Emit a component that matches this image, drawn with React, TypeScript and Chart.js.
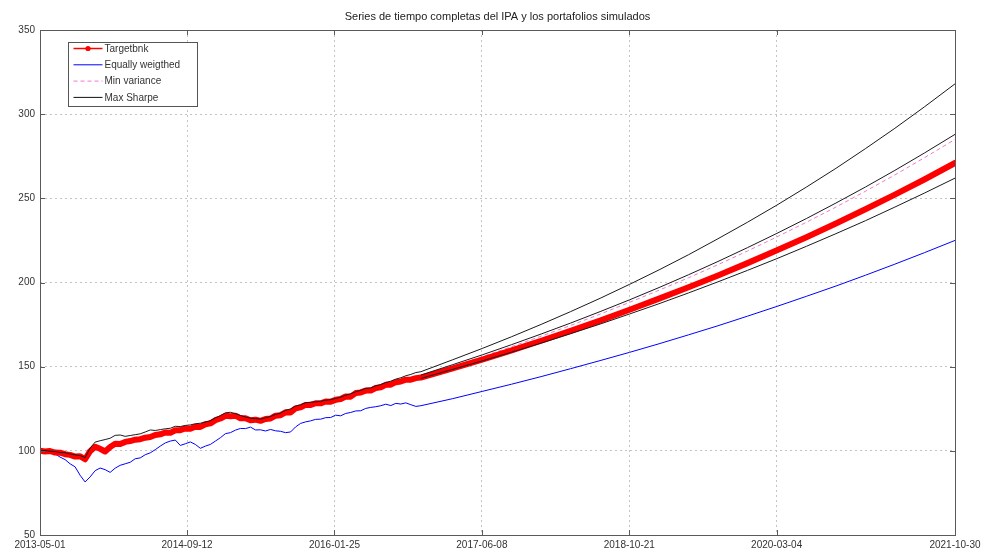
import { useEffect, useRef } from 'react';
import { Chart, registerables } from 'chart.js';

Chart.register(...registerables);

const titleText = 'Series de tiempo completas del IPA y los portafolios simulados';
const legendLabels = ['Targetbnk', 'Equally weigthed', 'Min variance', 'Max Sharpe'];

// x axis: days since 2013-05-01
const xMax = 3104;
const xTickDays = [0, 499, 999, 1499, 1999, 2499, 3104];
const xTickLabels = ['2013-05-01', '2014-09-12', '2016-01-25', '2017-06-08', '2018-10-21', '2020-03-04', '2021-10-30'];
const yTicks = [50, 100, 150, 200, 250, 300, 350];

const histDays = [
  0, 17, 34, 51, 68, 85, 102, 119, 136, 153,
  170, 187, 204, 221, 238, 255, 272, 289, 306, 323,
  340, 357, 374, 391, 408, 425, 442, 459, 476, 493,
  510, 527, 544, 561, 578, 595, 612, 629, 646, 663,
  680, 697, 714, 731, 748, 765, 782, 799, 816, 833,
  850, 867, 884, 901, 918, 935, 952, 969, 986, 1003,
  1020, 1037, 1054, 1071, 1088, 1105, 1122, 1139, 1156, 1173,
  1190, 1207, 1224, 1241, 1258, 1275, 1292,
];
const projDays = [1400, 1500, 1600, 1700, 1800, 1900, 2000, 2100, 2200, 2300, 2400, 2500, 2600, 2700, 2800, 2900, 3000, 3104];
const bandDays = [1292, 1400, 1500, 1600, 1700, 1800, 1900, 2000, 2100, 2200, 2300, 2400, 2500, 2600, 2700, 2800, 2900, 3000, 3104];

const targetHist = [
  100.0, 99.6, 99.9, 99.0, 98.9, 98.0, 97.6, 96.6, 96.8, 95.0,
  99.8, 102.4, 101.2, 99.6, 102.3, 104.2, 104.0, 105.3, 105.8, 106.6,
  106.9, 107.8, 108.2, 109.4, 109.8, 110.9, 110.7, 112.2, 112.3, 113.3,
  113.1, 114.3, 114.2, 115.8, 116.3, 118.2, 119.2, 120.8, 120.6, 120.9,
  119.3, 119.4, 118.2, 118.5, 117.8, 118.9, 119.2, 120.9, 121.2, 122.9,
  122.8, 125.2, 125.8, 127.3, 127.2, 128.3, 128.2, 129.3, 129.2, 130.3,
  130.8, 132.3, 132.2, 134.3, 134.7, 135.8, 135.8, 137.3, 137.8, 139.2,
  139.3, 140.8, 141.2, 142.3, 142.3, 143.2, 143.5,
];
const targetProj = [149.0, 154.2, 159.7, 165.4, 171.3, 177.4, 183.8, 190.4, 197.2, 204.2, 211.5, 219.1, 226.9, 235.1, 243.5, 252.2, 261.2, 271.0];

const equalHist = [
  100.0, 99.6, 98.8, 98.2, 96.3, 94.8, 92.3, 90.5, 85.5, 81.5,
  84.5, 88.2, 89.8, 88.8, 87.2, 89.7, 91.4, 92.3, 93.2, 95.3,
  95.8, 97.7, 98.8, 100.7, 102.8, 104.7, 105.8, 106.4, 103.2, 104.2,
  105.3, 103.8, 101.5, 102.8, 103.8, 105.8, 107.8, 110.2, 110.8, 112.3,
  113.3, 113.2, 114.1, 112.4, 112.5, 111.8, 112.7, 111.9, 111.6, 110.8,
  111.2, 114.2, 116.3, 117.2, 117.8, 118.7, 118.8, 119.7, 119.8, 121.2,
  120.8, 122.2, 122.8, 123.7, 123.8, 125.2, 125.8, 126.2, 126.8, 127.7,
  126.9, 128.2, 127.8, 128.5, 127.4, 126.4, 126.8,
];
const equalProj = [131.0, 135.3, 139.6, 144.1, 148.8, 153.6, 158.5, 163.6, 168.9, 174.3, 180.0, 185.8, 191.8, 197.9, 204.3, 210.9, 217.7, 225.0];

const minVarHist = [
  99.9, 99.5, 99.7, 98.9, 98.7, 97.9, 97.4, 96.5, 96.6, 94.9,
  99.5, 102.0, 101.0, 99.4, 102.0, 103.9, 103.8, 105.0, 105.5, 106.3,
  106.6, 107.5, 107.9, 109.0, 109.5, 110.6, 110.4, 111.9, 112.0, 113.0,
  112.8, 114.0, 113.9, 115.5, 116.0, 117.9, 118.9, 120.5, 120.3, 120.6,
  119.0, 119.1, 117.9, 118.2, 117.5, 118.6, 118.9, 120.6, 120.9, 122.6,
  122.5, 124.9, 125.5, 127.0, 126.9, 128.0, 127.9, 129.0, 128.9, 130.0,
  130.5, 132.0, 131.9, 134.0, 134.4, 135.5, 135.5, 137.0, 137.5, 138.9,
  139.0, 140.5, 140.9, 142.0, 142.0, 142.9, 144.0,
];
const minVarProj = [150.1, 155.9, 161.9, 168.1, 174.5, 181.2, 188.2, 195.4, 202.8, 210.6, 218.7, 227.1, 235.8, 244.8, 254.2, 263.9, 274.1, 285.0];

const maxSharpeHist = [
  100.0, 100.2, 99.8, 99.6, 99.0, 98.9, 98.1, 97.6, 97.2, 96.0,
  101.6, 105.2, 106.0, 106.7, 107.5, 109.2, 109.4, 108.6, 109.1, 109.6,
  110.1, 111.2, 112.4, 112.1, 112.6, 113.1, 113.4, 114.6, 114.4, 115.1,
  115.4, 116.1, 116.4, 117.1, 117.9, 119.6, 120.9, 122.6, 122.9, 122.1,
  121.0, 120.1, 119.4, 119.1, 118.9, 119.6, 120.4, 121.6, 122.4, 124.1,
  124.9, 126.6, 127.4, 128.6, 128.9, 129.1, 129.4, 130.1, 130.4, 131.1,
  131.9, 133.1, 133.9, 135.1, 135.9, 137.1, 137.4, 138.6, 139.4, 140.6,
  141.4, 142.6, 143.4, 144.6, 145.4, 146.5, 147.0,
];
const maxSharpeProj = [154.1, 160.8, 167.8, 175.1, 182.7, 190.6, 198.9, 207.5, 216.5, 226.0, 235.8, 246.0, 256.7, 267.8, 279.5, 291.6, 304.3, 318.0];

const upperBand = [145.0, 151.2, 157.0, 163.1, 169.4, 175.9, 182.7, 189.7, 197.0, 204.6, 212.5, 220.7, 229.2, 238.0, 247.2, 256.7, 266.6, 276.9, 288.0];
const lowerBand = [143.0, 148.4, 153.4, 158.6, 164.0, 169.6, 175.3, 181.3, 187.4, 193.8, 200.4, 207.2, 214.2, 221.5, 229.0, 236.7, 244.8, 253.1, 262.0];

const FONT = '"Liberation Sans", Arial, sans-serif';

function joinSeries(hist: number[], proj: number[]) {
  return [
    ...histDays.map((d, i) => ({ x: d, y: hist[i] })),
    ...projDays.map((d, i) => ({ x: d, y: proj[i] })),
  ];
}
function band(vals: number[]) {
  return bandDays.map((d, i) => ({ x: d, y: vals[i] }));
}

const overlayPlugin = {
  id: 'overlay',
  afterDraw(chart: any) {
    const { ctx, chartArea: a, scales } = chart;
    ctx.save();
    // frame
    ctx.strokeStyle = '#5a5a5a';
    ctx.lineWidth = 1;
    ctx.setLineDash([]);
    ctx.strokeRect(Math.round(a.left) + 0.5, Math.round(a.top) + 0.5, Math.round(a.right - a.left), Math.round(a.bottom - a.top));
    // inward ticks
    ctx.beginPath();
    for (const v of yTicks) {
      const y = Math.round(scales.y.getPixelForValue(v)) + 0.5;
      ctx.moveTo(a.left, y); ctx.lineTo(a.left + 5, y);
      ctx.moveTo(a.right, y); ctx.lineTo(a.right - 5, y);
    }
    for (const v of xTickDays) {
      const x = Math.round(scales.x.getPixelForValue(v)) + 0.5;
      ctx.moveTo(x, a.bottom); ctx.lineTo(x, a.bottom - 5);
      ctx.moveTo(x, a.top); ctx.lineTo(x, a.top + 5);
    }
    ctx.stroke();

    // title
    ctx.fillStyle = '#222';
    ctx.font = `11px ${FONT}`;
    ctx.textAlign = 'center';
    ctx.textBaseline = 'middle';
    ctx.fillText(titleText, (a.left + a.right) / 2, 17);

    // legend
    const bx = Math.round(a.left) + 28.5;
    const by = Math.round(a.top) + 12.5;
    const bw = 129;
    const bh = 64;
    ctx.fillStyle = '#fff';
    ctx.fillRect(bx, by, bw, bh);
    ctx.strokeStyle = '#555';
    ctx.lineWidth = 1;
    ctx.strokeRect(bx, by, bw, bh);
    const styles = [
      { color: '#ff0000', width: 1.5, dash: [] as number[], marker: true },
      { color: '#0000ff', width: 1, dash: [] as number[], marker: false },
      { color: '#f07ac8', width: 1, dash: [4, 3], marker: false },
      { color: '#111111', width: 1, dash: [] as number[], marker: false },
    ];
    ctx.font = `10px ${FONT}`;
    ctx.textAlign = 'left';
    ctx.textBaseline = 'middle';
    for (let i = 0; i < legendLabels.length; i++) {
      const y = by + 6 + i * 16.3;
      const s = styles[i];
      ctx.beginPath();
      ctx.setLineDash(s.dash);
      ctx.strokeStyle = s.color;
      ctx.lineWidth = s.width;
      ctx.moveTo(bx + 5, y);
      ctx.lineTo(bx + 34, y);
      ctx.stroke();
      ctx.setLineDash([]);
      if (s.marker) {
        ctx.beginPath();
        ctx.fillStyle = s.color;
        ctx.arc(bx + 19.5, y, 2.6, 0, Math.PI * 2);
        ctx.fill();
      }
      ctx.fillStyle = '#333';
      ctx.fillText(legendLabels[i], bx + 36, y + 0.5);
    }
    ctx.restore();
  },
};

export default function App() {
  const ref = useRef<HTMLCanvasElement | null>(null);
  useEffect(() => {
    document.body.style.margin = '0';
    if (!ref.current) return;
    const gridColor = '#c4c4c4';
    const chart = new Chart(ref.current, {
      type: 'line',
      data: {
        datasets: [
          {
            label: legendLabels[3],
            data: joinSeries(maxSharpeHist, maxSharpeProj),
            borderColor: '#1a1a1a', borderWidth: 1, pointRadius: 0, order: 0,
          },
          {
            label: 'upper',
            data: band(upperBand),
            borderColor: '#1a1a1a', borderWidth: 1, pointRadius: 0, order: 0,
          },
          {
            label: 'lower',
            data: band(lowerBand),
            borderColor: '#1a1a1a', borderWidth: 1, pointRadius: 0, order: 0,
          },
          {
            label: legendLabels[0],
            data: joinSeries(targetHist, targetProj),
            borderColor: '#ff0000', borderWidth: 6, pointRadius: 0, order: 1,
            borderJoinStyle: 'round', borderCapStyle: 'round',
          },
          {
            label: legendLabels[2],
            data: joinSeries(minVarHist, minVarProj),
            borderColor: '#f07ac8', borderWidth: 1, borderDash: [4, 3], pointRadius: 0, order: 2,
          },
          {
            label: legendLabels[1],
            data: joinSeries(equalHist, equalProj),
            borderColor: '#0000ff', borderWidth: 1, pointRadius: 0, order: 3,
          },
        ],
      },
      options: {
        animation: false,
        responsive: false,
        maintainAspectRatio: false,
        layout: { padding: { left: 0, right: 34, top: 30, bottom: 0 } },
        plugins: { legend: { display: false }, title: { display: false }, tooltip: { enabled: false } },
        elements: { line: { tension: 0 } },
        scales: {
          x: {
            type: 'linear',
            min: 0,
            max: xMax,
            afterBuildTicks: (scale: any) => {
              scale.ticks = xTickDays.map((v) => ({ value: v }));
            },
            afterFit: (scale: any) => { scale.height = 20; },
            ticks: {
              autoSkip: false,
              maxRotation: 0,
              padding: 4,
              color: '#333',
              font: { family: FONT, size: 10 },
              callback: (_v: any, i: number) => xTickLabels[i],
            },
            grid: { color: gridColor, drawTicks: false, lineWidth: 1 },
            border: { display: false, dash: [2, 3] },
          },
          y: {
            min: 50,
            max: 350,
            afterBuildTicks: (scale: any) => {
              scale.ticks = yTicks.map((v) => ({ value: v }));
            },
            afterFit: (scale: any) => { scale.width = 40; },
            ticks: {
              padding: 5,
              color: '#333',
              font: { family: FONT, size: 10 },
            },
            grid: { color: gridColor, drawTicks: false, lineWidth: 1 },
            border: { display: false, dash: [2, 3] },
          },
        },
      },
      plugins: [overlayPlugin],
    } as any);
    return () => chart.destroy();
  }, []);
  return (
    <div style={{ width: 989, height: 555 }}>
      <canvas ref={ref} width={989} height={555} style={{ display: 'block' }} />
    </div>
  );
}
